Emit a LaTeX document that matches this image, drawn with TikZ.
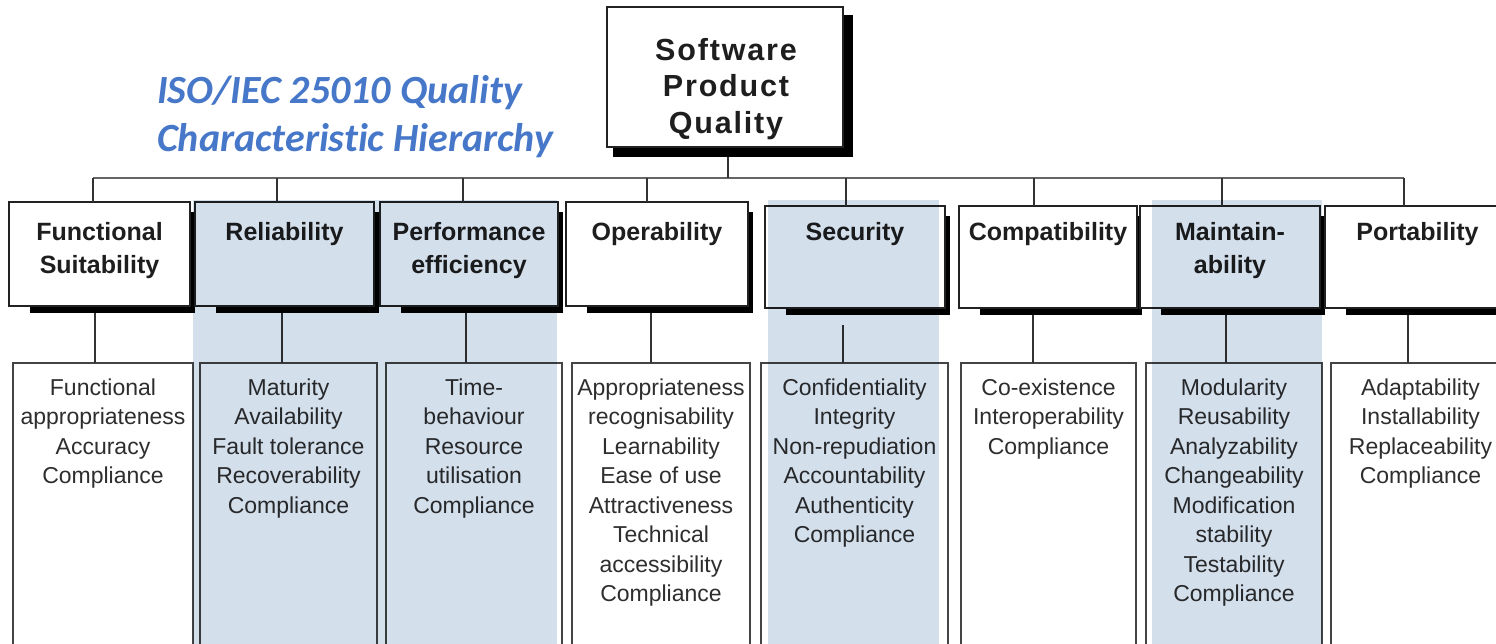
\documentclass[tikz,border=0pt]{standalone}
\usepackage{fontspec}
\setmainfont{Liberation Sans}
\newfontfamily\topfam[LetterSpace=6]{Liberation Sans}
\newfontfamily\titlefam[Ligatures=NoCommon]{Carlito}
\usetikzlibrary{backgrounds}
\definecolor{boxline}{HTML}{222222}
\definecolor{subline}{HTML}{444444}
\definecolor{connc}{HTML}{333333}
\definecolor{busc}{HTML}{666666}
\definecolor{textc}{HTML}{1E1E1E}
\definecolor{subtextc}{HTML}{2E2E2E}
\definecolor{bandc}{HTML}{D4DFEC}
\definecolor{titlec}{HTML}{4677C8}
\newcommand\myrule[1]{\rule{0pt}{#1}}
\newcommand\catfont{\bfseries\fontsize{25}{33}\selectfont}
\newcommand\subfont{\fontsize{23}{29.5}\selectfont}
\tikzset{
  catbox/.style={draw=boxline, line width=2pt, fill=white, anchor=north west, inner sep=0pt, outer sep=0pt},
  subbox/.style={draw=subline, line width=1.8pt, fill=white, anchor=north west, inner sep=0pt, outer sep=0pt},
  cattext/.style={anchor=north, align=center, inner sep=0pt, font=\catfont, text=textc},
  subtext/.style={anchor=north, align=center, inner sep=0pt, font=\subfont, text=subtextc},
  toptext/.style={anchor=north, align=center, inner sep=0pt, font=\topfam\bfseries\fontsize{30.5}{36.75}\selectfont, text=textc},
  titletext/.style={anchor=north west, align=left, inner sep=0pt, font=\titlefam\bfseries\itshape\fontsize{40}{48}\selectfont, text=titlec},
  conn/.style={draw=connc, line width=2pt},
  busline/.style={draw=busc, line width=2pt},
  shadowfill/.style={fill=black},
  band/.style={fill=bandc},
}
% #1 name, #2 left, #3 top, #4 right, #5 bottom, #6 text
\newcommand\mkcat[6]{%
  \node[catbox, minimum width={#4-#2}, minimum height={#5-#3}] (#1) at (#2,#3) {};
  \begin{scope}[on background layer]
    \fill[shadowfill] (#2+21,#3+10) rectangle (#4+5,#5+7);
  \end{scope}
  \node[cattext] (#1t) at ({(#2+#4)/2},218) {\myrule{22pt}#6};
}
% #1 name, #2 left, #3 right, #4 text
\newcommand\mksub[4]{%
  \node[subbox, minimum width={#3-#2}, minimum height=290] (#1) at (#2,363) {};
  \node[subtext] (#1t) at ({(#2+#3)/2},375) {\myrule{20pt}#4};
}
\begin{document}
\begin{tikzpicture}[x=1pt,y=-1pt]
\useasboundingbox (0,0) rectangle (1496,643);
\begin{scope}[on background layer]
  \fill[white] (0,0) rectangle (1496,643);
\end{scope}

% title
\node[titletext] (title) at (157,69) {\myrule{34pt}ISO/IEC 25010 Quality\\Characteristic Hierarchy};

% top box
\node[catbox, minimum width=236, minimum height=140] (top) at (607,7) {};
\begin{scope}[on background layer]
  \fill[shadowfill] (613,15) rectangle (853,157);
\end{scope}
\node[toptext] (topt) at (726,34) {\myrule{26pt}Software\\Product\\Quality};

% category boxes
\mkcat{c1}{9}{202}{190}{306}{Functional\\Suitability}
\mkcat{c2}{195}{202}{374}{306}{Reliability}
\mkcat{c3}{380}{202}{558}{306}{Performance\\efficiency}
\mkcat{c4}{566}{202}{748}{306}{Operability}
\mkcat{c5}{765}{206}{945}{308}{Security}
\mkcat{c6}{959}{206}{1137}{308}{Compatibility}
\mkcat{c7}{1140}{206}{1320}{308}{Maintain-\\ability}
\mkcat{c8}{1325}{206}{1510}{308}{Portability}

% sub boxes
\mksub{s1}{13}{193}{Functional\\appropriateness\\Accuracy\\Compliance}
\mksub{s2}{200}{377}{Maturity\\Availability\\Fault tolerance\\Recoverability\\Compliance}
\mksub{s3}{386}{562}{Time-\\behaviour\\Resource\\utilisation\\Compliance}
\mksub{s4}{572}{750}{Appropriateness\\recognisability\\Learnability\\Ease of use\\Attractiveness\\Technical\\accessibility\\Compliance}
\mksub{s5}{761}{948}{Confidentiality\\Integrity\\Non-repudiation\\Accountability\\Authenticity\\Compliance}
\mksub{s6}{961}{1136}{Co-existence\\Interoperability\\Compliance}
\mksub{s7}{1146}{1322}{Modularity\\Reusability\\Analyzability\\Changeability\\Modification\\stability\\Testability\\Compliance}
\mksub{s8}{1331}{1510}{Adaptability\\Installability\\Replaceability\\Compliance}

% bus and connectors
\coordinate (tdrop) at (728,157);
\coordinate (b1) at (93,178);
\coordinate (b2) at (277,178);
\coordinate (b3) at (463,178);
\coordinate (b4) at (647,178);
\coordinate (b5) at (846,178);
\coordinate (b6) at (1034,178);
\coordinate (b7) at (1222,178);
\coordinate (b8) at (1404,178);
\draw[busline] (b1) -- (b8);
\draw[conn] (tdrop) -- (tdrop |- b1);
\foreach \i in {1,...,8} {
  \draw[conn] (b\i) -- (b\i |- c\i.north);
}
\coordinate (d1) at (95,313);
\coordinate (d2) at (282,313);
\coordinate (d3) at (466,313);
\coordinate (d4) at (651,313);
\coordinate (d5) at (843,325);
\coordinate (d6) at (1033,315);
\coordinate (d7) at (1226,315);
\coordinate (d8) at (1408,315);
\foreach \i in {1,...,8} {
  \draw[conn] (d\i) -- (d\i |- s\i.north);
}

% highlight bands (multiply, so the text beneath stays dark)
\begin{scope}[blend mode=multiply]
  \fill[band] (193,200) rectangle (557,650);
  \fill[band] (768,200) rectangle (939,650);
  \fill[band] (1152,200) rectangle (1322,650);
\end{scope}
\end{tikzpicture}
\end{document}
